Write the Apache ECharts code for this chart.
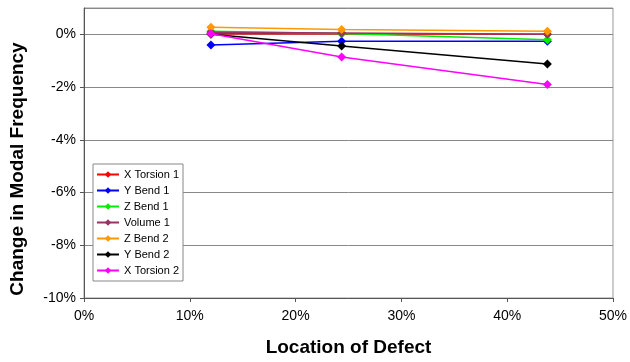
<!DOCTYPE html>
<html><head><meta charset="utf-8">
<script src="https://cdn.jsdelivr.net/npm/echarts@6/dist/echarts.min.js"></script>
<style>html,body{margin:0;padding:0;background:#fff}#c{width:630px;height:362px}</style>
</head><body><div id="c"></div>
<script>
const locations = [12.0, 24.35, 43.8];
const seriesNames = ['X Torsion 1','Y Bend 1','Z Bend 1','Volume 1','Z Bend 2','Y Bend 2','X Torsion 2'];
const xTorsion1 = [0.02, 0.02, 0.0];
const yBend1 = [-0.4, -0.26, -0.26];
const zBend1 = [0.12, 0.03, -0.2];
const volume1 = [0.08, 0.05, 0.0];
const zBend2 = [0.27, 0.18, 0.12];
const yBend2 = [0.0, -0.44, -1.12];
const xTorsion2 = [0.02, -0.86, -1.9];
const colors = ['#ff0000','#0000ff','#00ee00','#993366','#ff9900','#000000','#ff00ff'];
const allValues = [xTorsion1,yBend1,zBend1,volume1,zBend2,yBend2,xTorsion2];

const chart = echarts.init(document.getElementById('c'));
const font = 'Liberation Sans, Arial, sans-serif';
chart.setOption({
  animation:false,
  grid:{left:83,right:15,top:8,bottom:64,show:true,borderColor:'#999',borderWidth:1},
  xAxis:{type:'value',min:0,max:50,interval:10,
    axisLine:{show:true,onZero:false,lineStyle:{color:'#555',width:1}},
    axisTick:{show:true,inside:false,length:4,lineStyle:{color:'#555'}},
    splitLine:{show:false},
    axisLabel:{formatter:v=>v+'%',color:'#000',fontFamily:font,fontSize:14,margin:11},
    name:'Location of Defect',nameLocation:'middle',nameGap:40,
    nameTextStyle:{fontFamily:font,fontSize:19,fontWeight:'bold',color:'#000'}},
  yAxis:{type:'value',min:-10,max:1,interval:2,
    axisLine:{show:true,onZero:false,lineStyle:{color:'#555',width:1}},
    axisTick:{show:true,length:4,lineStyle:{color:'#555'}},
    splitLine:{show:true,lineStyle:{color:'#888',width:1}},
    axisLabel:{formatter:v=>(v>0.5?'':v+'%'),showMaxLabel:false,color:'#000',fontFamily:font,fontSize:14,margin:8},
    name:'Change in Modal Frequency',nameLocation:'middle',nameGap:57,
    nameTextStyle:{fontFamily:font,fontSize:19,fontWeight:'bold',color:'#000',padding:[0,32,0,0]}},
  legend:{orient:'vertical',left:93,top:164,itemWidth:22,itemHeight:8,itemGap:5,
    padding:[5,4,5,3],backgroundColor:'#fff',borderColor:'#888',borderWidth:1,
    textStyle:{fontFamily:font,fontSize:11,color:'#000'},data:seriesNames},
  series: seriesNames.map((n,i)=>({
    name:n,type:'line',symbol:'diamond',symbolSize:9,
    data:locations.map((x,j)=>[x,allValues[i][j]]),
    lineStyle:{color:colors[i],width:1.5},itemStyle:{color:colors[i]},
    z:2+i
  }))
});
</script></body></html>
